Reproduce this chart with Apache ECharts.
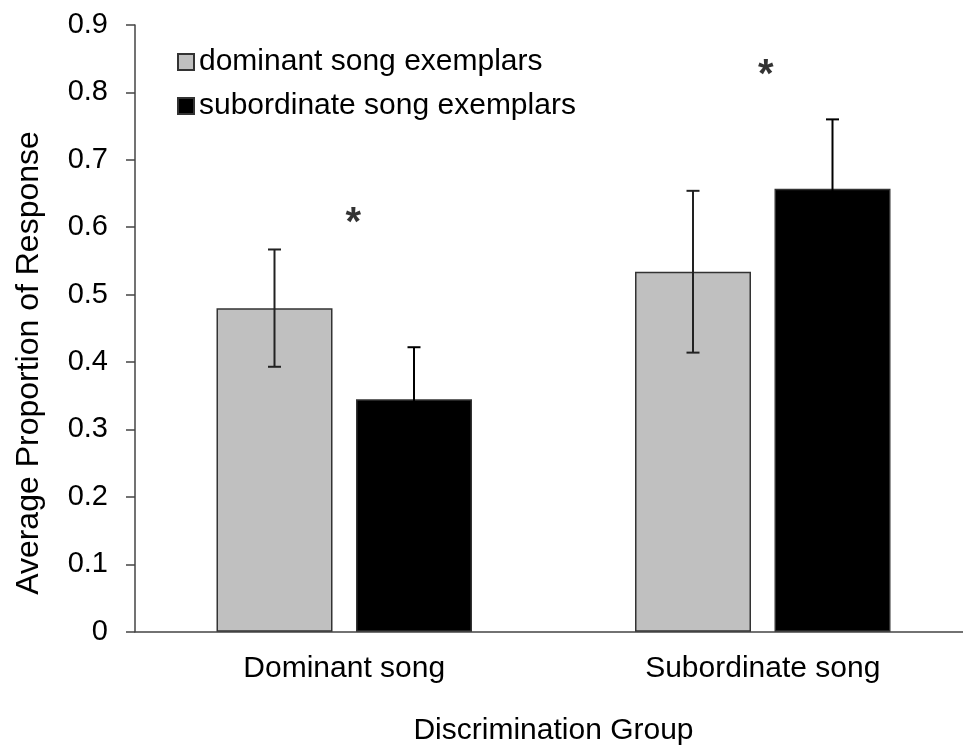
<!DOCTYPE html>
<html>
<head>
<meta charset="utf-8">
<script src="https://cdn.jsdelivr.net/npm/echarts@6/dist/echarts.min.js"></script>
<style>html,body{margin:0;padding:0;background:#fff}#c{width:963px;height:746px}</style>
</head>
<body>
<div id="c"></div>
<script>
const categories = ['Dominant song', 'Subordinate song'];
const seriesNames = ['dominant song exemplars', 'subordinate song exemplars'];
const dominantMeans = [0.48, 0.534];
const dominantErr = [0.087, 0.12];
const subordinateMeans = [0.345, 0.657];
const subordinateErr = [0.077, 0.103];
const asteriskY = [0.605, 0.825];
const yTicks = [0, 0.1, 0.2, 0.3, 0.4, 0.5, 0.6, 0.7, 0.8, 0.9];

const FONT = 'Liberation Sans, Arial, sans-serif';
const BAR_W = 116;
const GAP_PX = 23.5;
const OFFSET = (BAR_W + GAP_PX) / 2;

const chart = echarts.init(document.getElementById('c'), null, {renderer: 'canvas'});

function errData(means, errs) {
  return means.map((m, i) => [i, m - errs[i], m + errs[i]]);
}
function errRender(offset, color) {
  return function (params, api) {
    const i = api.value(0);
    const lo = api.coord([i, api.value(1)]);
    const hi = api.coord([i, api.value(2)]);
    const x = lo[0] + offset;
    const cap = 6.5;
    const st = {stroke: color, lineWidth: 2};
    return {
      type: 'group',
      children: [
        {type: 'line', shape: {x1: x, y1: lo[1], x2: x, y2: hi[1]}, style: st},
        {type: 'line', shape: {x1: x - cap, y1: lo[1], x2: x + cap, y2: lo[1]}, style: st},
        {type: 'line', shape: {x1: x - cap, y1: hi[1], x2: x + cap, y2: hi[1]}, style: st}
      ]
    };
  };
}

const option = {
  animation: false,
  backgroundColor: '#fff',
  grid: {left: 135, right: -9, top: 25, bottom: 114.3, containLabel: false, outerBoundsMode: 'none'},
  legend: {
    orient: 'vertical',
    left: 172, top: 42,
    icon: 'rect',
    itemWidth: 16, itemHeight: 16,
    itemGap: 14,
    itemTextGap: 9,
    textStyle: {fontFamily: FONT, fontSize: 30, color: '#000'},
    data: seriesNames
  },
  xAxis: {
    type: 'category',
    data: categories,
    boundaryGap: true,
    axisLine: {lineStyle: {color: '#444', width: 1.5}},
    axisTick: {show: false},
    axisLabel: {fontFamily: FONT, fontSize: 30, color: '#000', margin: 22},
    name: 'Discrimination Group',
    nameLocation: 'middle',
    nameGap: 84,
    nameTextStyle: {fontFamily: FONT, fontSize: 30, color: '#000'}
  },
  yAxis: {
    type: 'value',
    min: 0, max: 0.9, interval: 0.1,
    axisLine: {show: true, lineStyle: {color: '#444', width: 1.5}},
    axisTick: {show: true, inside: false, length: 9, lineStyle: {color: '#444', width: 1.5}},
    splitLine: {show: false},
    axisLabel: {
      fontFamily: FONT, fontSize: 29, color: '#000', margin: 27,
      formatter: v => {
        const t = yTicks.find(k => Math.abs(k - v) < 1e-9);
        return t === 0 ? '0' : (t !== undefined ? t.toFixed(1) : '');
      }
    }
  },
  graphic: [{
    type: 'text',
    x: 29, y: 363,
    rotation: Math.PI / 2,
    style: {
      text: 'Average Proportion of Response',
      font: '32px ' + FONT,
      fill: '#000',
      align: 'center',
      verticalAlign: 'middle'
    }
  }],
  series: [
    {
      name: seriesNames[0], type: 'bar', data: dominantMeans,
      barWidth: BAR_W, barGap: (GAP_PX / BAR_W * 100) + '%',
      itemStyle: {color: '#c0c0c0', borderColor: '#333', borderWidth: 1.5}
    },
    {
      name: seriesNames[1], type: 'bar', data: subordinateMeans,
      barWidth: BAR_W,
      itemStyle: {color: '#000', borderColor: '#333', borderWidth: 1.5}
    },
    {
      type: 'custom', renderItem: errRender(-OFFSET, '#222'), data: errData(dominantMeans, dominantErr), z: 5
    },
    {
      type: 'custom', renderItem: errRender(OFFSET, '#000'), data: errData(subordinateMeans, subordinateErr), z: 5
    },
    {
      type: 'scatter', symbolSize: 0, silent: true, z: 6,
      data: [
        {value: [0, asteriskY[0]], label: {offset: [9, 0]}},
        {value: [1, asteriskY[1]], label: {offset: [3, 0]}}
      ],
      label: {show: true, position: 'inside', formatter: '*', fontFamily: FONT, fontSize: 40, fontWeight: 'bold', color: '#000'}
    }
  ]
};
chart.setOption(option);
</script>
</body>
</html>
